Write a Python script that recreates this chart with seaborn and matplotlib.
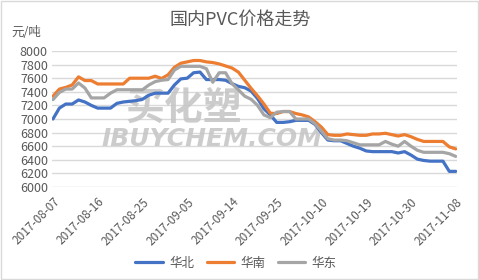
import matplotlib
matplotlib.use("Agg")
import matplotlib.pyplot as plt
import seaborn as sns
import pandas as pd
from matplotlib.patches import Rectangle
from matplotlib.lines import Line2D

dates = ["2017-08-07","2017-08-08","2017-08-09","2017-08-10","2017-08-11","2017-08-14","2017-08-15","2017-08-16",
         "2017-08-17","2017-08-18","2017-08-21","2017-08-22","2017-08-23","2017-08-24","2017-08-25","2017-08-28",
         "2017-08-29","2017-08-30","2017-08-31","2017-09-01","2017-09-04","2017-09-05","2017-09-06","2017-09-07",
         "2017-09-08","2017-09-11","2017-09-12","2017-09-13","2017-09-14","2017-09-15","2017-09-18","2017-09-19",
         "2017-09-20","2017-09-21","2017-09-22","2017-09-25","2017-09-26","2017-09-27","2017-09-28","2017-09-29",
         "2017-09-30","2017-10-09","2017-10-10","2017-10-11","2017-10-12","2017-10-13","2017-10-16","2017-10-17",
         "2017-10-18","2017-10-19","2017-10-20","2017-10-23","2017-10-24","2017-10-25","2017-10-26","2017-10-27",
         "2017-10-30","2017-10-31","2017-11-01","2017-11-02","2017-11-03","2017-11-06","2017-11-07","2017-11-08"]

huabei = [7000,7160,7220,7220,7280,7250,7200,7160,7160,7160,
          7230,7250,7260,7270,7290,7350,7380,7380,7380,7500,
          7590,7600,7680,7690,7580,7580,7580,7570,7520,7480,
          7460,7410,7300,7150,7060,6950,6950,6960,6980,6980,
          6980,6920,6800,6690,6680,6680,6640,6600,6570,6530,
          6520,6520,6520,6520,6500,6520,6470,6410,6390,6380,
          6380,6380,6230,6230]

huanan = [7335,7440,7465,7500,7620,7565,7565,7515,7515,7515,
          7515,7515,7600,7600,7600,7600,7630,7595,7650,7760,
          7820,7840,7860,7860,7840,7830,7810,7780,7750,7690,
          7570,7450,7340,7220,7085,7080,7110,7110,7080,7060,
          7030,6960,6880,6770,6760,6760,6780,6770,6760,6760,
          6780,6780,6790,6770,6750,6770,6740,6700,6670,6670,
          6670,6670,6590,6560]

huadong = [7285,7390,7440,7440,7530,7455,7310,7310,7310,7380,
           7430,7430,7430,7430,7430,7500,7550,7570,7580,7720,
           7775,7775,7775,7775,7740,7540,7680,7680,7520,7430,
           7335,7290,7200,7060,7020,7100,7110,7110,7000,7000,
           7000,6930,6820,6710,6690,6690,6680,6650,6620,6620,
           6620,6620,6670,6630,6600,6670,6600,6540,6510,6510,
           6510,6510,6490,6450]

series_names = ["华北", "华南", "华东"]
colors = ["#4472C4", "#ED7D31", "#A5A5A5"]
tick_labels = dates[::7]

sns.set_theme(style="white")
plt.rcParams['font.family'] = ['Noto Sans CJK SC', 'DejaVu Sans']

rows = []
for name, vals in zip(series_names, [huabei, huanan, huadong]):
    for i, v in enumerate(vals):
        rows.append({"idx": i, "date": dates[i], "price": v, "region": name})
df = pd.DataFrame(rows)

fig = plt.figure(figsize=(4.79, 2.80), dpi=100)
ax = fig.add_axes([52/479, 1-187/280, (457-52)/479, (187-51)/280])

txt = "#595959"
# watermark
ax.text(20.4, 7160, "买化塑", fontsize=28, fontweight="bold", style="italic",
        color="#c4c4c4", ha="center", va="center", zorder=1, alpha=0.85)
ax.text(24.9, 6700, "IBUYCHEM.COM", fontsize=18, fontweight="bold", style="italic",
        color="#c4c4c4", ha="center", va="center", zorder=1, alpha=0.85,
        family="DejaVu Sans")

sns.lineplot(data=df, x="idx", y="price", hue="region", palette=colors,
             hue_order=series_names, linewidth=2.3, ax=ax, legend=False, zorder=3)

ax.set_ylim(6000, 8000)
ax.set_xlim(-0.15, 63.2)
ax.set_yticks(range(6000, 8001, 200))
ax.set_yticklabels([str(v) for v in range(6000, 8001, 200)], fontsize=9, color=txt)
ax.set_xticks(range(0, 64, 7))
ax.set_xticklabels(tick_labels, rotation=45, ha="right", rotation_mode="anchor",
                   fontsize=8.5, color=txt)
ax.tick_params(axis="both", length=0, pad=3)
ax.tick_params(axis="x", pad=6)
ax.grid(axis="y", color="#D9D9D9", linewidth=1)
ax.grid(axis="x", visible=False)
for s in ax.spines.values():
    s.set_visible(False)
ax.set_xlabel("")
ax.set_ylabel("")

fig.text(240/479, 1-20/280, "国内PVC价格走势", fontsize=13, color=txt, ha="center", va="center")
fig.text(11/479, 1-33/280, "元/吨", fontsize=9, color=txt, ha="left", va="center")

handles = [Line2D([0], [0], color=c, linewidth=2.3) for c in colors]
fig.legend(handles, series_names, loc="center", bbox_to_anchor=(236/479, 1-263/280),
           ncol=3, frameon=False, fontsize=9, labelcolor=txt, handlelength=2.2,
           columnspacing=1.0, handletextpad=0.5)

fig.patches.append(Rectangle((0.002, 0.003), 0.995, 0.993, transform=fig.transFigure,
                             fill=False, edgecolor="#D9D9D9", linewidth=1))

fig.savefig("out.png", dpi=100)
